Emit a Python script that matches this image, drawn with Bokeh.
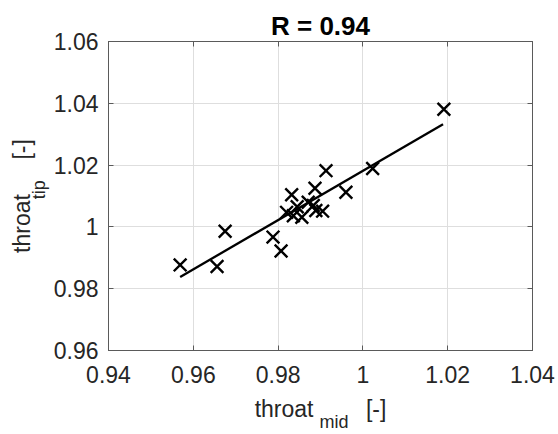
from bokeh.plotting import figure
from bokeh.models import Range1d, FixedTicker, LinearAxis, CustomJSTickFormatter
from bokeh.embed import file_html
from bokeh.resources import INLINE

# ---- data ----
throat_mid = [0.9569, 0.9656, 0.9675, 0.9788, 0.9807, 0.9832, 0.9820, 0.9836,
              0.9856, 0.9871, 0.9887, 0.9883, 0.9889, 0.9905, 0.9913, 0.9960,
              1.0023, 1.0191, 0.9845]
throat_tip = [0.9877, 0.9872, 0.9986, 0.9967, 0.9922, 1.0104, 1.0047, 1.0036,
              1.0031, 1.0080, 1.0125, 1.0069, 1.0053, 1.0051, 1.0182, 1.0112,
              1.0189, 1.0381, 1.0065]
fit_mid = [0.9569, 1.0189]
fit_tip = [0.9838, 1.0332]

x_ticks = [0.94, 0.96, 0.98, 1.0, 1.02, 1.04]
x_tick_labels = ["0.94", "0.96", "0.98", "1", "1.02", "1.04"]
y_ticks = [0.96, 0.98, 1.0, 1.02, 1.04, 1.06]
y_tick_labels = ["0.96", "0.98", "1", "1.02", "1.04", "1.06"]
title_text = "R = 0.94"
x_label_main, x_label_sub, x_label_unit = "throat", "mid", "[-]"
y_label_main, y_label_sub, y_label_unit = "throat", "tip", "[-]"

FONT = "Liberation Sans"
TXT = "#262626"
AX = "#5a5a5a"
EN, EM, THIN = "\u2002", "\u2003", "\u2009"

W, H = 558, 434
FL, FR, FT, FB = 108, 532, 41, 352      # frame edges in canvas pixels

p = figure(width=W, height=H, output_backend="svg", toolbar_location=None,
           x_range=Range1d(0.94, 1.04), y_range=Range1d(0.96, 1.06),
           min_border_left=FL, min_border_right=W - FR, min_border_top=FT,
           min_border_bottom=H - FB)

p.title.text = title_text
p.title.align = "center"
p.title.text_font = FONT
p.title.text_font_size = "26px"
p.title.text_font_style = "bold"
p.title.text_color = "black"
p.title.standoff = 2

p.outline_line_color = AX
p.outline_line_width = 1


def fmt(tvals, tlabels):
    return CustomJSTickFormatter(args=dict(tvals=tvals, tlabels=tlabels), code="""
        let best = 0, d = 1e9;
        for (let i = 0; i < tvals.length; i++) {
            const e = Math.abs(tvals[i] - tick);
            if (e < d) { d = e; best = i; }
        }
        return tlabels[best];
    """)


def label_style(ax, text, size, standoff):
    ax.axis_label = text
    ax.axis_label_text_font = FONT
    ax.axis_label_text_font_size = size
    ax.axis_label_text_font_style = "normal"
    ax.axis_label_text_color = TXT
    ax.axis_label_standoff = standoff


for ax, tv, tl, so in ((p.xaxis[0], x_ticks, x_tick_labels, 15),
                       (p.yaxis[0], y_ticks, y_tick_labels, 10)):
    ax.ticker = FixedTicker(ticks=tv)
    ax.formatter = fmt(tv, tl)
    ax.major_label_text_font = FONT
    ax.major_label_text_font_size = "23px"
    ax.major_label_text_color = TXT
    ax.axis_line_color = AX
    ax.major_tick_line_color = AX
    ax.major_tick_in = 5
    ax.major_tick_out = 0
    ax.minor_tick_line_color = None
    ax.major_label_standoff = so

# x label: main text on the x axis, subscript on a bare axis below it
label_style(p.xaxis[0], x_label_main + EN * 4 + " " + x_label_unit, "23px", 10)
# y label: subscript on the y axis, main text on a bare axis further out
label_style(p.yaxis[0], EN + THIN + y_label_sub, "18px", 2)


def bare_axis():
    a = LinearAxis(ticker=FixedTicker(ticks=[]))
    a.axis_line_color = None
    a.major_tick_line_color = None
    a.minor_tick_line_color = None
    a.major_tick_in = 0
    a.major_tick_out = 0
    a.minor_tick_in = 0
    a.minor_tick_out = 0
    a.major_label_standoff = 0
    return a


xsub = bare_axis()
label_style(xsub, EM + EN + x_label_sub, "18px", -13)
p.add_layout(xsub, "below")

ymain = bare_axis()
label_style(ymain, y_label_main + EN * 3 + y_label_unit, "23px", -9)
p.add_layout(ymain, "left")

# inward ticks on top and right (MATLAB box)
for loc, tv in (("above", x_ticks), ("right", y_ticks)):
    a = LinearAxis(ticker=FixedTicker(ticks=tv))
    a.major_label_text_font_size = "1px"
    a.major_label_text_color = None
    a.major_label_standoff = 0
    a.axis_line_color = AX
    a.major_tick_line_color = AX
    a.major_tick_in = 5
    a.major_tick_out = 0
    a.minor_tick_line_color = None
    p.add_layout(a, loc)

p.xgrid.ticker = FixedTicker(ticks=x_ticks)
p.ygrid.ticker = FixedTicker(ticks=y_ticks)
p.grid.grid_line_color = "#dedede"
p.grid.grid_line_width = 1

p.line(fit_mid, fit_tip, line_color="black", line_width=2.3)
p.scatter(throat_mid, throat_tip, marker="x", size=18, line_color="black",
          line_width=2.4)

open("out.html", "w").write(file_html(p, INLINE))
